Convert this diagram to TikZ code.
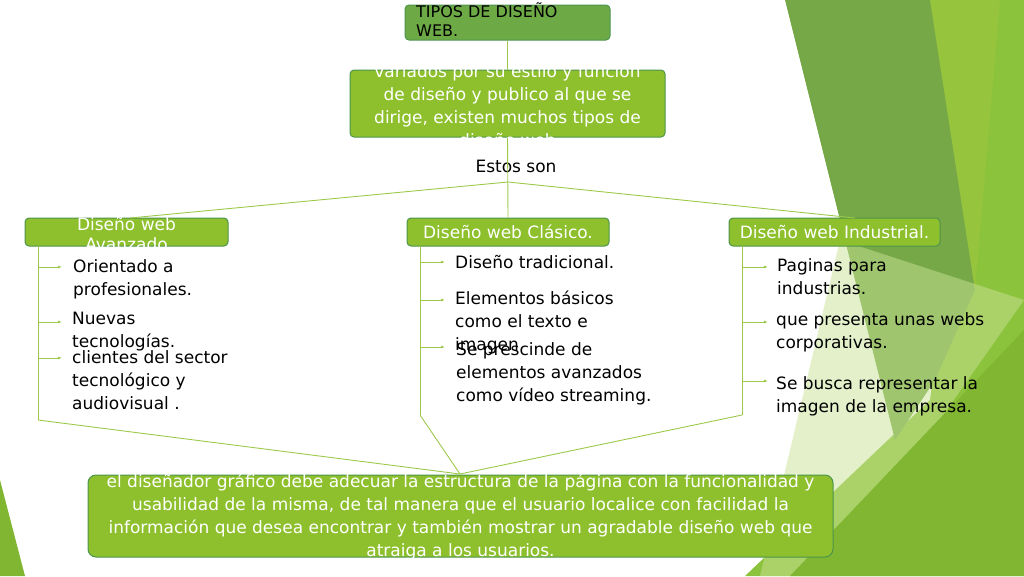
\documentclass[tikz,border=0pt]{standalone}
\usepackage{fontspec}
\setmainfont{DejaVu Sans}
\begin{document}
\begin{tikzpicture}[x=1pt,y=-1pt,
  box/.style={draw=green!40!black!70, fill=gbox, rounded corners=4pt, line width=1pt},
  wt/.style={text=white, font=\fontsize{17}{20}\selectfont},
  bt/.style={text=black, font=\fontsize{17}{23}\selectfont, align=left, anchor=north west, inner sep=0},
  ln/.style={draw=gline, line width=0.9pt},
  ar/.style={ln, -{Latex[length=4pt,width=3pt]}}]
\usetikzlibrary{arrows.meta}
\definecolor{gbox}{HTML}{8DC02C}
\definecolor{gtop}{HTML}{6DAA45}
\definecolor{gline}{HTML}{9CC94A}
\useasboundingbox (0,0) rectangle (1024,576);
% background
\fill[color={rgb,255:red,140;green,195;blue,60}] (985,0) -- (1024,0) -- (1024,576) -- (745,576) -- (930,400) -- cycle;
\fill[color={rgb,255:red,118;green,168;blue,72}] (785,0) -- (935,0) -- (975,290) -- (935,380) -- (895,440) -- cycle;
\fill[color={rgb,255:red,150;green,196;blue,60}] (930,0) -- (1000,0) -- (975,290) -- cycle;
\fill[color={rgb,255:red,200;green,226;blue,150}, opacity=.5] (840,240) -- (1024,300) -- (830,576) -- (760,576) -- cycle;
\fill[color={rgb,255:red,128;green,182;blue,50}] (1024,330) -- (1024,576) -- (790,576) -- cycle;
\fill[color={rgb,255:red,128;green,182;blue,50}] (0,480) -- (25,576) -- (0,576) -- cycle;
% nodes
\node[box, fill=gtop, minimum width=205pt, minimum height=35pt] (top) at (507.5,22.5) {};
\node[anchor=north west, inner sep=0, align=left, font=\fontsize{16}{19}\selectfont] (toptxt) at (416,3) {TIPOS DE DISEÑO\\WEB.};
\node[box, minimum width=315pt, minimum height=67pt] (var) at (507.5,103.5) {};
\node[wt, align=center, font=\fontsize{17}{23}\selectfont] (vartxt) at (507.5,105) {variados por su estilo y función\\de diseño y publico al que se\\dirige, existen muchos tipos de\\diseño web};
\node[font=\fontsize{17}{20}\selectfont] (estos) at (516,166) {Estos son};
\coordinate (br) at (508,182);
\node[box, minimum width=203pt, minimum height=28pt] (av) at (126.5,232) {};
\node[wt, align=center] (avt) at (126.5,234) {Diseño web\\Avanzado};
\node[box, minimum width=202pt, minimum height=28pt, wt] (cl) at (508,232) {Diseño web Clásico.};
\node[box, minimum width=211pt, minimum height=28pt, wt] (in) at (834.5,232) {Diseño web Industrial.};
\node[box, minimum width=745pt, minimum height=82pt, rounded corners=8pt] (bot) at (460.5,516) {};
\node[wt, align=center, font=\fontsize{17}{23}\selectfont] (bott) at (460.5,517) {el diseñador gráfico debe adecuar la estructura de la página con la funcionalidad y\\usabilidad de la misma, de tal manera que el usuario localice con facilidad la\\información que desea encontrar y también mostrar un agradable diseño web que\\atraiga a los usuarios.};
% connectors
\draw[ln] (top.south) -- (var.north);
\draw[ln] (var.south) -- (cl.north);
\draw[ln] (br) -- (130,218);
\draw[ln] (br) -- (855,218);
\coordinate (l0) at (38,246); \coordinate (l1) at (38,420);
\coordinate (m0) at (420,246); \coordinate (m1) at (420,415);
\coordinate (r0) at (742,246); \coordinate (r1) at (742,415);
\draw[ln] (l0) -- (l1); \draw[ln] (m0) -- (m1); \draw[ln] (r0) -- (r1);
\coordinate (j) at (460,474);
\draw[ln] (l1) -- (j); \draw[ln] (m1) -- (j); \draw[ln] (r1) -- (j);
% left items
\node[bt] (a1) at (73,259) {Orientado a\\profesionales.};
\node[bt] (a2) at (72,312) {Nuevas\\tecnologías.};
\node[bt] (a3) at (72,350) {clientes del sector\\tecnológico y\\audiovisual .};
\draw[ar] (38,267) -- (62,267); \draw[ar] (38,322) -- (62,322); \draw[ar] (38,358) -- (62,358);
% middle
\node[bt] (b1) at (455,255) {Diseño tradicional.};
\node[bt] (b2) at (455,291) {Elementos básicos\\como el texto e\\imagen};
\node[bt] (b3) at (456,342) {Se prescinde de\\elementos avanzados\\como vídeo streaming.};
\draw[ar] (420,262) -- (445,262); \draw[ar] (420,300) -- (445,300); \draw[ar] (420,347) -- (445,347);
% right
\node[bt] (c1) at (777,258) {Paginas para\\industrias.};
\node[bt] (c2) at (776,312) {que presenta unas webs\\corporativas.};
\node[bt] (c3) at (776,376) {Se busca representar la\\imagen de la empresa.};
\draw[ar] (742,267) -- (768,267); \draw[ar] (742,322) -- (768,322); \draw[ar] (742,381) -- (768,381);
\end{tikzpicture}
\end{document}
